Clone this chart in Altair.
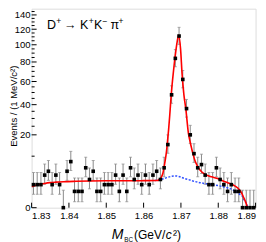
import altair as alt
import pandas as pd
import numpy as np

FONT = "Liberation Sans"

# ---- data ----
mass_lo = 1.830
bin_width = 0.001
counts = [2, 2, 2, 4, 5, 2, 4, 2, 0, 5,
          8, 1, 1, 1, 6, 3, 5, 1, 1, 2,
          2, 2, 4, 1, 4, 1, 6, 3, 4, 2,
          4, 2, 4, 5, 3, 6, 15, 48, 84, 111,
          62, 37, 20, 11, 6, 7, 4, 2, 2, 6,
          3, 2, 1, 2, 1, 1, 0, 0, 0, 0]

fit_mass = [1.8300, 1.8310, 1.8322, 1.8335, 1.8349, 1.8365, 1.8385, 1.8420, 1.8500,
            1.8600, 1.8635, 1.8643, 1.8648, 1.8652, 1.8655, 1.8658, 1.8661, 1.8664,
            1.8667, 1.8670, 1.8674, 1.8680, 1.8685, 1.8690, 1.8694, 1.8699, 1.8703,
            1.8708, 1.8713, 1.8720, 1.8725, 1.8729, 1.8733, 1.8737, 1.8743, 1.8751,
            1.8760, 1.8769, 1.8782, 1.8796, 1.8813, 1.8827, 1.8840, 1.8853, 1.8859,
            1.8863, 1.8867, 1.8871, 1.8875, 1.8878]
fit_total = [1.66, 1.85, 2.06, 2.22, 2.36, 2.46, 2.55, 2.63, 2.72,
             2.75, 2.78, 3.0, 3.6, 4.6, 6.3, 8.5, 11.5, 16.5,
             23, 32, 48, 70, 88, 104, 112, 95, 68,
             48, 37, 21, 16, 13, 10.5, 8.6, 6.8, 5.35,
             4.5, 4.0, 3.6, 3.26, 2.69, 2.3, 1.94, 1.42, 1.05,
             0.78, 0.45, 0.22, 0.06, 0.0]

bkg_mass = [1.8630, 1.8647, 1.8660, 1.8675, 1.8687, 1.8697, 1.8710, 1.8724, 1.8732,
            1.8751, 1.8778, 1.8813, 1.8840, 1.8857, 1.8863, 1.8871, 1.8876, 1.8878]
bkg_vals = [2.77, 3.0, 3.35, 3.7, 3.8, 3.6, 3.2, 2.9, 2.7,
            2.36, 2.06, 1.66, 1.18, 0.68, 0.55, 0.17, 0.05, 0.0]

x_major = [1.83, 1.84, 1.85, 1.86, 1.87, 1.88, 1.89]
y_major = [0, 20, 40, 60, 80, 100, 120, 140]
y_minor = [10, 25, 30, 35, 45, 50, 55, 65, 70, 75, 85, 90, 95,
           105, 110, 115, 125, 130, 135, 145]

# ---- tables ----
centers = [mass_lo + (i + 0.5) * bin_width for i in range(len(counts))]
n = np.array(counts, dtype=float)
lo = np.where(n > 0, n - np.sqrt(np.clip(n - 0.25, 0, None)), 0.0)
hi = np.where(n > 0, n + 1 + np.sqrt(n + 0.75), 1.15)
pts = pd.DataFrame({"m": centers, "n": counts, "lo": lo, "hi": hi})
fit_df = pd.DataFrame({"m": fit_mass, "v": fit_total})
bkg_df = pd.DataFrame({"m": bkg_mass, "v": bkg_vals})

xs = alt.Scale(domain=[1.83, 1.89], nice=False, zero=False)
ys = alt.Scale(type="sqrt", domain=[0, 149.2], nice=False, zero=True)

W, H = 224, 199

x_axis = alt.Axis(values=x_major, format=".2f", ticks=False, domain=False, grid=False,
                  labelFont=FONT, labelFontSize=9.5, labelPadding=3, labelColor="black",
                  title=None)
y_axis = alt.Axis(values=y_major, ticks=False, domain=False, grid=False,
                  labelFont=FONT, labelFontSize=9.5, labelPadding=1.5, labelColor="black",
                  title="Events / (1 MeV/c²)", titleFont=FONT, titleFontSize=9.5,
                  titleFontWeight="normal", titleColor="black", titleAngle=270,
                  titleX=-12.8, titleY=97, titleAlign="center", titleBaseline="bottom")


def X(field):
    return alt.X(field, type="quantitative", scale=xs, axis=x_axis)


def Y(field):
    return alt.Y(field, type="quantitative", scale=ys, axis=y_axis)


errbars = alt.Chart(pts).mark_rule(color="#8a8a8a", strokeWidth=1).encode(
    x=X("m"), y=Y("lo"), y2="hi:Q")
cap_lo = alt.Chart(pts).mark_tick(color="#8a8a8a", orient="horizontal", size=3, thickness=1).encode(
    x=X("m"), y=Y("lo"))
cap_hi = alt.Chart(pts).mark_tick(color="#8a8a8a", orient="horizontal", size=3, thickness=1).encode(
    x=X("m"), y=Y("hi"))
bkg_line = alt.Chart(bkg_df).mark_line(color="#3050ff", strokeWidth=1.5, strokeDash=[2, 1.5],
                                       interpolate="monotone", clip=True).encode(
    x=X("m"), y=Y("v"))
fit_line = alt.Chart(fit_df).mark_line(color="#ff0000", strokeWidth=1.6,
                                       interpolate="monotone", clip=True).encode(
    x=X("m"), y=Y("v"))
markers = alt.Chart(pts).mark_square(size=13, color="black", opacity=1).encode(
    x=X("m"), y=Y("n"))

ytick_major = alt.Chart(pd.DataFrame({"v": y_major})).mark_rule(color="black", strokeWidth=1).encode(
    y=Y("v"), x=alt.value(0), x2=alt.value(5))
ytick_minor = alt.Chart(pd.DataFrame({"v": y_minor})).mark_rule(color="black", strokeWidth=1).encode(
    y=Y("v"), x=alt.value(0), x2=alt.value(3))
xtick_major = alt.Chart(pd.DataFrame({"v": x_major})).mark_rule(color="black", strokeWidth=1).encode(
    x=X("v"), y=alt.value(H), y2=alt.value(H - 5))

one = alt.Data(values=[{"a": 1}])


def label(txt, x, y, size, style="normal"):
    return alt.Chart(one).mark_text(text=txt, font=FONT, fontSize=size, fontStyle=style,
                                    align="left", baseline="alphabetic", color="black").encode(
        x=alt.value(x), y=alt.value(y))


# reaction label, piece by piece (main 12.5 px, superscripts 8.5 px)
B, S = 20.8, 15.6
t_parts = [
    label("D", 15.4, B, 12.5),
    label("+", 24.6, S, 8.5),
    label("→", 32.5, B, 12.5),
    label("K", 48.5, B, 12.5),
    label("+", 57.1, S, 8.5),
    label("K", 62.4, B, 12.5),
    label("−", 70.9, S, 8.5),
    label("π", 79.0, B, 12.5),
    label("+", 86.8, S, 8.5),
]

xt_m = label("M", 80.1, 230.5, 14, "italic")
xt_bc = label("BC", 92.6, 233.0, 6.3)
xt_a = label("(GeV/", 102.4, 230.5, 12)
xt_c = label("c", 134.2, 230.5, 12, "italic")
xt_b = label("²)", 141.3, 230.5, 12)

chart = alt.layer(
    errbars, cap_lo, cap_hi, bkg_line, fit_line, markers,
    ytick_major, ytick_minor, xtick_major,
    *t_parts, xt_m, xt_bc, xt_a, xt_c, xt_b,
).properties(
    width=W, height=H,
    autosize=alt.AutoSizeParams(type="none"),
    padding={"left": 23.6, "top": 0.7, "right": 2, "bottom": 34},
).configure_view(stroke="black", strokeWidth=1.6).configure(background="white")

chart.save("out.html", embed_options={"renderer": "svg", "actions": False})
